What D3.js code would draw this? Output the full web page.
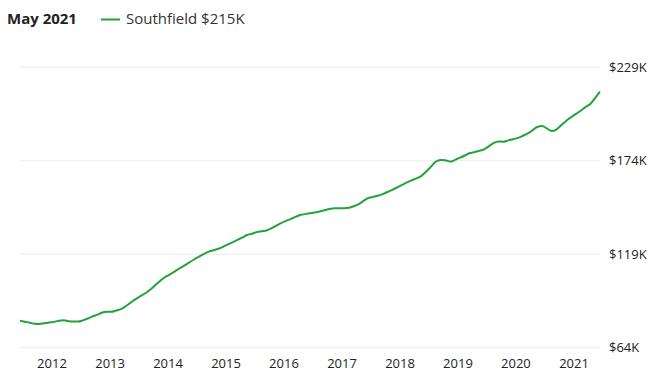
<!DOCTYPE html>
<html>
<head>
<meta charset="utf-8">
<script src="https://cdn.jsdelivr.net/npm/d3@7"></script>
<style>
  body { margin: 0; background: #fff; }
  svg { font-family: "Open Sans", sans-serif; }
</style>
</head>
<body>
<svg id="chart" width="659" height="387"></svg>
<script>
// monthly home value, Southfield, May 2011 .. May 2021 (thousands of $)
const startMonth = "2011-05";
const values = [
  79.9, 79.3, 78.7, 78.1, 78.0, 78.4, 78.8, 79.2, 79.8, 80.1, 79.6, 79.4,
  79.4, 80.1, 81.2, 82.4, 83.5, 84.7, 85.1, 85.2, 86.0, 86.8, 88.7, 90.7,
  92.7, 94.5, 96.2, 98.4, 100.9, 103.4, 105.6, 107.2, 108.9, 110.6, 112.3, 114.1,
  115.9, 117.5, 119.1, 120.5, 121.3, 122.2, 123.4, 124.8, 126.1, 127.4, 128.8, 130.3,
  131.1, 132.0, 132.5, 133.0, 134.2, 135.8, 137.3, 138.6, 139.8, 141.0, 142.1, 142.6,
  143.1, 143.6, 144.2, 144.9, 145.6, 146.1, 146.1, 146.1, 146.3, 147.2, 148.4, 150.2,
  152.0, 152.7, 153.4, 154.4, 155.6, 156.9, 158.3, 159.8, 161.3, 162.5, 163.6, 165.0,
  167.5, 170.4, 173.4, 174.5, 174.3, 173.5, 174.5, 175.8, 177.1, 178.4, 179.1, 179.8,
  180.7, 182.5, 184.4, 185.4, 185.2, 186.0, 186.7, 187.5, 188.7, 189.9, 191.8, 193.9,
  194.4, 193.0, 191.5, 192.5, 195.0, 197.6, 199.6, 201.6, 203.6, 205.6, 207.4, 210.9,
  214.7
];
const yTicks = [64, 119, 174, 229];
const xTickYears = [2012, 2013, 2014, 2015, 2016, 2017, 2018, 2019, 2020, 2021];
const seriesName = "Southfield";
const headerLabel = "May 2021";

const svg = d3.select("#chart");
const plot = { left: 20, right: 600, top: 67.3, bottom: 347.7 };

// dates stand for the end of each month
const start = d3.timeParse("%Y-%m")(startMonth);
const data = values.map((v, i) => ({ date: d3.timeMonth.offset(start, i + 1), value: v }));

const x = d3.scaleTime()
  .domain(d3.extent(data, d => d.date))
  .range([plot.left, plot.right]);

const y = d3.scaleLinear()
  .domain([yTicks[0], yTicks[yTicks.length - 1]])
  .range([plot.bottom, plot.top]);

// grid lines
svg.append("g")
  .selectAll("line")
  .data(yTicks)
  .join("line")
  .attr("x1", plot.left)
  .attr("x2", plot.right)
  .attr("y1", d => y(d))
  .attr("y2", d => y(d))
  .attr("stroke", "#ebebeb")
  .attr("stroke-width", 1);

// y labels on the right
svg.append("g")
  .selectAll("text")
  .data(yTicks)
  .join("text")
  .attr("x", 609)
  .attr("y", d => y(d) + 4.5)
  .style("font-size", "13px")
  .style("fill", "#222")
  .text(d => `$${d}K`);

// x labels
svg.append("g")
  .selectAll("text")
  .data(xTickYears)
  .join("text")
  .attr("x", d => x(new Date(d, 0, 1)) - 2)
  .attr("y", 368)
  .attr("text-anchor", "middle")
  .style("font-size", "13px")
  .style("fill", "#222")
  .text(d => d);

// the line
const line = d3.line()
  .x(d => x(d.date))
  .y(d => y(d.value))
  .curve(d3.curveMonotoneX);

svg.append("path")
  .datum(data)
  .attr("d", line)
  .attr("fill", "none")
  .attr("stroke", "#22a33a")
  .attr("stroke-width", 2)
  .attr("stroke-linejoin", "round");

// header + legend
svg.append("text")
  .attr("x", 7)
  .attr("y", 24)
  .style("font-size", "15px")
  .style("font-weight", "bold")
  .style("fill", "#222")
  .text(headerLabel);

svg.append("line")
  .attr("x1", 101).attr("x2", 120)
  .attr("y1", 19.5).attr("y2", 19.5)
  .attr("stroke", "#22a33a")
  .attr("stroke-width", 2);

svg.append("text")
  .attr("x", 126)
  .attr("y", 24)
  .style("font-size", "15px")
  .style("fill", "#333")
  .text(`${seriesName} $${Math.round(values[values.length - 1])}K`);
</script>
</body>
</html>
